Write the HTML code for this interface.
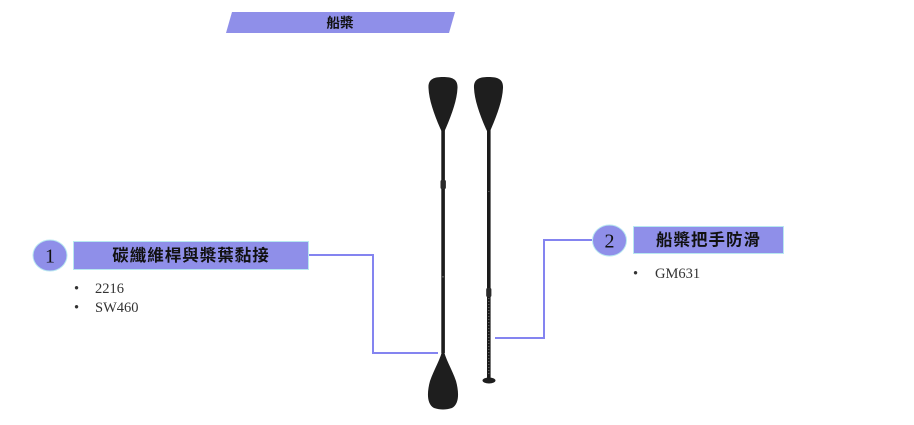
<!DOCTYPE html>
<html><head><meta charset="utf-8">
<style>
html,body{margin:0;padding:0;background:#fff;}
body{width:914px;height:425px;overflow:hidden;}
svg{display:block;}
.cjk{font-family:"Liberation Sans","Noto Sans CJK TC",sans-serif;font-weight:bold;fill:#111;}
.num{font-family:"Liberation Serif",serif;fill:#111;}
.bul{font-family:"Liberation Serif",serif;fill:#333;font-size:14.5px;}
</style></head>
<body>
<svg width="914" height="425" viewBox="0 0 914 425" xmlns="http://www.w3.org/2000/svg">
  <!-- title banner -->
  <polygon points="232,12 455,12 449,33 226,33" fill="#8f8fe9"/>
  <text x="340" y="27.5" class="cjk" font-size="13.5" text-anchor="middle">船槳</text>

  <!-- connectors -->
  <polyline points="308,255 373,255 373,353 438,353" fill="none" stroke="#8484f0" stroke-width="2"/>
  <polyline points="592,240 544,240 544,338 495,338" fill="none" stroke="#8484f0" stroke-width="2"/>

  <!-- box 1 -->
  <ellipse cx="50" cy="255.5" rx="17" ry="15.5" fill="#8f8fe9" stroke="#b8e8f0" stroke-width="1"/>
  <text x="50" y="262.5" class="num" font-size="20" text-anchor="middle">1</text>
  <rect x="73.5" y="241.5" width="235" height="28" fill="#8f8fe9" stroke="#b8e8f0" stroke-width="1"/>
  <text x="191" y="261" class="cjk" font-size="16.5" letter-spacing="1" text-anchor="middle">碳纖維桿與槳葉黏接</text>
  <text x="74" y="293" class="bul">•</text>
  <text x="95" y="293" class="bul">2216</text>
  <text x="74" y="312" class="bul">•</text>
  <text x="95" y="312" class="bul">SW460</text>

  <!-- box 2 -->
  <ellipse cx="609.5" cy="240.5" rx="17" ry="15.5" fill="#8f8fe9" stroke="#b8e8f0" stroke-width="1"/>
  <text x="609.5" y="247.5" class="num" font-size="20" text-anchor="middle">2</text>
  <rect x="633.5" y="226.5" width="150" height="27" fill="#8f8fe9" stroke="#b8e8f0" stroke-width="1"/>
  <text x="708.5" y="245.5" class="cjk" font-size="16.5" letter-spacing="1" text-anchor="middle">船槳把手防滑</text>
  <text x="633" y="278" class="bul">•</text>
  <text x="655" y="278" class="bul">GM631</text>

  <!-- left paddle -->
  <path d="M443,77 C452,77 458,79 457.5,88 C457,100 452,114 445.5,129 L443,134 L440.5,129 C434,114 429,100 428.5,88 C428,79 434,77 443,77 Z" fill="#1e1e1e"/>
  <rect x="441.3" y="128" width="3.6" height="225" fill="#1c1c1c"/>
  <rect x="440.5" y="180" width="5.4" height="9" rx="1.5" fill="#2a2a2a"/>
  <rect x="442" y="276" width="2" height="1.5" fill="#555"/>
  <path d="M443,347 C445,359 452,369 456,381 C459,392 459.5,404 452,408 C446,410 440,410 434,408 C426.5,404 427,392 430,381 C434,369 441,359 443,347 Z" fill="#1e1e1e"/>

  <!-- right paddle -->
  <path d="M488.5,77 C497.5,77 503.5,79 503,88 C502.5,100 497.5,114 491,129 L488.5,134 L486,129 C479.5,114 474.5,100 474,88 C473.5,79 479.5,77 488.5,77 Z" fill="#1e1e1e"/>
  <rect x="487" y="128" width="3.6" height="252" fill="#1a1a1a"/>
  <rect x="486.2" y="288" width="5.2" height="9" rx="1.5" fill="#2a2a2a"/>
  <line x1="488.8" y1="298" x2="488.8" y2="375" stroke="#777" stroke-width="1" stroke-dasharray="1 2"/>
  <rect x="488" y="191" width="1.5" height="1" fill="#555"/>
  <ellipse cx="489" cy="380.5" rx="6.5" ry="3" fill="#1e1e1e"/>
</svg>
</body></html>
